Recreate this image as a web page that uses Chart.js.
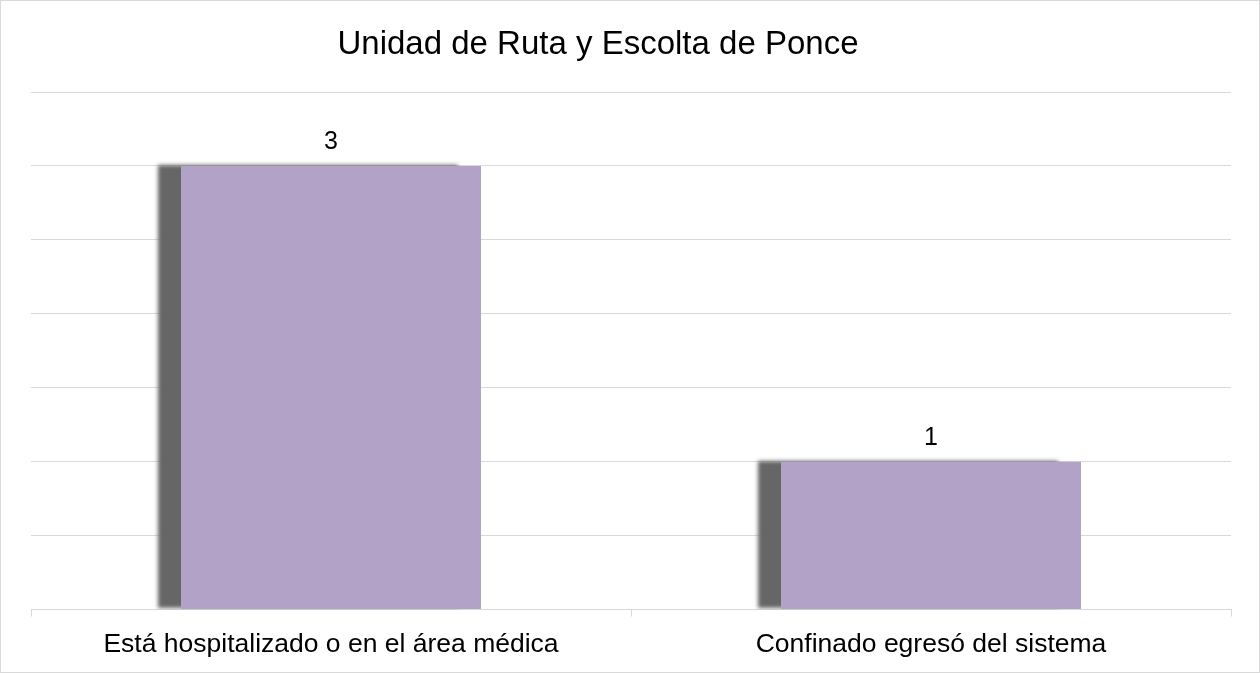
<!DOCTYPE html>
<html>
<head>
<meta charset="utf-8">
<script src="https://cdn.jsdelivr.net/npm/chart.js@4"></script>
<style>
  html, body { margin: 0; padding: 0; background: #fff; }
  canvas { display: block; }
</style>
</head>
<body>
<canvas id="chart" width="1260" height="673"></canvas>
<script>
// Datos del gráfico
const chartTitle = 'Unidad de Ruta y Escolta de Ponce';
const categories = ['Está hospitalizado o en el área médica', 'Confinado egresó del sistema'];
const values = [3, 1];

const barColor = '#b2a2c7';
const gridColor = '#d9d9d9';
const fontFamily = '"Liberation Sans", Arial, sans-serif';

// Marco del gráfico
const frame = {
  id: 'frame',
  beforeDraw(chart) {
    const ctx = chart.ctx;
    ctx.save();
    ctx.strokeStyle = gridColor;
    ctx.lineWidth = 1;
    ctx.strokeRect(0.5, 0.5, chart.width - 1, chart.height - 1);
    ctx.restore();
  }
};

// Sombra a la izquierda de las barras
const barShadow = {
  id: 'barShadow',
  beforeDatasetsDraw(chart) {
    const ctx = chart.ctx;
    ctx.save();
    ctx.shadowColor = '#666666';
    ctx.shadowOffsetX = -23;
    ctx.shadowOffsetY = -1;
    ctx.shadowBlur = 4;
  },
  afterDatasetsDraw(chart) {
    chart.ctx.restore();
  }
};

// Título y etiquetas de valores
const textLayer = {
  id: 'textLayer',
  afterDraw(chart) {
    const ctx = chart.ctx;
    ctx.save();
    ctx.fillStyle = '#000';
    ctx.textAlign = 'center';
    ctx.textBaseline = 'middle';
    ctx.font = '33px ' + fontFamily;
    ctx.fillText(chartTitle, 598, 45);

    ctx.font = '25px ' + fontFamily;
    chart.getDatasetMeta(0).data.forEach((bar, i) => {
      ctx.fillText(String(values[i]), bar.x, bar.y - 24);
    });
    ctx.restore();
  }
};

new Chart(document.getElementById('chart'), {
  type: 'bar',
  data: {
    labels: categories,
    datasets: [{
      data: values,
      backgroundColor: barColor,
      borderWidth: 0,
      barPercentage: 0.5,
      categoryPercentage: 1
    }]
  },
  options: {
    responsive: false,
    animation: false,
    layout: { padding: { top: 92, left: 31, right: 29, bottom: 0 } },
    plugins: {
      legend: { display: false },
      title: { display: false },
      tooltip: { enabled: false }
    },
    scales: {
      x: {
        offset: true,
        grid: {
          offset: true,
          drawOnChartArea: false,
          color: gridColor,
          lineWidth: 1,
          tickLength: 7
        },
        border: { color: gridColor, width: 1 },
        ticks: {
          color: '#000',
          padding: 15,
          font: { size: 26.5, family: fontFamily, lineHeight: 1 }
        }
      },
      y: {
        min: 0,
        max: 3.5,
        ticks: { display: false, stepSize: 0.5 },
        grid: { color: gridColor, lineWidth: 1, drawTicks: false },
        border: { display: false }
      }
    }
  },
  plugins: [frame, barShadow, textLayer]
});
</script>
</body>
</html>
